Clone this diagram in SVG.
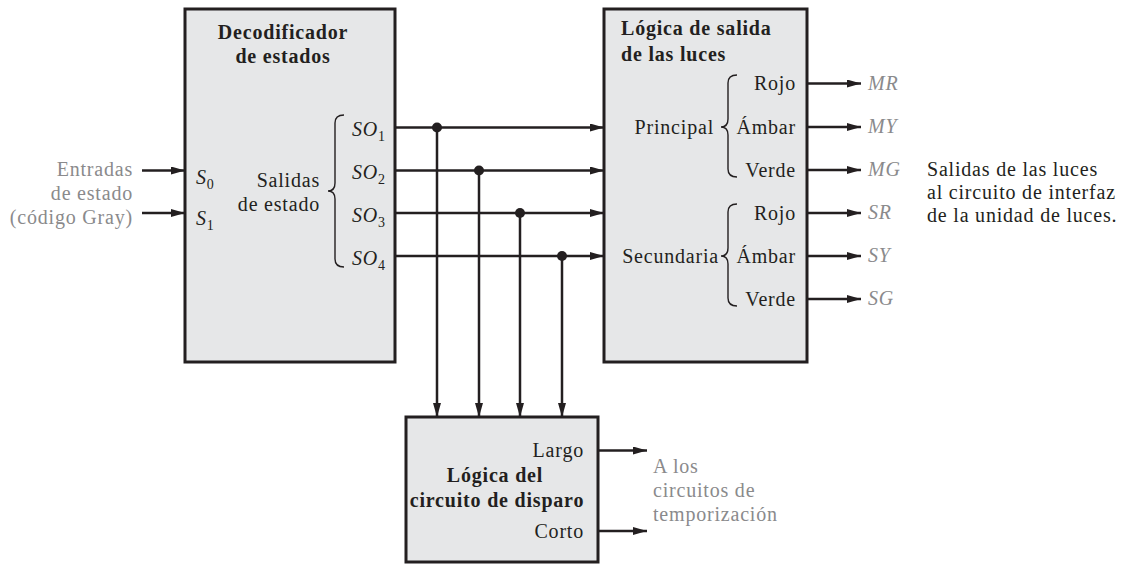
<svg xmlns="http://www.w3.org/2000/svg" width="1127" height="565" viewBox="0 0 1127 565">
<defs>
<marker id="ah" viewBox="0 0 14 8" refX="14" refY="4" markerWidth="14" markerHeight="8" markerUnits="userSpaceOnUse" orient="auto">
<path d="M0,0 L14,4 L0,8 z" fill="#231f20"/>
</marker>
<style>
.box{fill:#e6e7e8;stroke:#231f20;stroke-width:3}
.w{fill:none;stroke:#231f20;stroke-width:2.5}
.br{fill:none;stroke:#231f20;stroke-width:1.4}
.dot{fill:#231f20}
text{font-family:"Liberation Serif","Times New Roman",serif;font-size:20px;letter-spacing:0.8px;fill:#231f20}
.b{font-weight:bold}
.i{font-style:italic}
.g{fill:#8a8a8c}
.e{text-anchor:end}
.m{text-anchor:middle}
.sub{font-size:14px;font-style:normal}
</style>
</defs>

<g id="decodificador">
<rect class="box" x="185" y="9" width="210" height="353"/>
<text class="b m" x="283" y="39">Decodificador</text>
<text class="b m" x="283" y="63">de estados</text>
<text class="i" x="196" y="184">S<tspan class="sub" dy="5">0</tspan></text>
<text class="i" x="196" y="225">S<tspan class="sub" dy="5">1</tspan></text>
<text class="e" x="320" y="187">Salidas</text>
<text class="e" x="320" y="211">de estado</text>
<path class="br" d="M344,115 Q335,115 335,123 L335,183 Q335,191 328,191 Q335,191 335,199 L335,259 Q335,267 344,267"/>
<text class="i" x="352" y="136">SO<tspan class="sub" dy="5">1</tspan></text>
<text class="i" x="352" y="179">SO<tspan class="sub" dy="5">2</tspan></text>
<text class="i" x="352" y="222">SO<tspan class="sub" dy="5">3</tspan></text>
<text class="i" x="352" y="265">SO<tspan class="sub" dy="5">4</tspan></text>
</g>

<g id="logica-salida">
<rect class="box" x="604" y="9" width="203" height="353"/>
<text class="b" x="621" y="35">Lógica de salida</text>
<text class="b" x="621" y="61">de las luces</text>
<text class="e" x="714" y="133.5">Principal</text>
<text class="e" x="719" y="262.5">Secundaria</text>
<path class="br" d="M737,75 Q728,75 728,83 L728,119 Q728,127 721,127 Q728,127 728,135 L728,169 Q728,177 737,177"/>
<path class="br" d="M737,204 Q728,204 728,212 L728,248 Q728,256 721,256 Q728,256 728,264 L728,298 Q728,306 737,306"/>
<text class="e" x="796" y="90">Rojo</text>
<text class="e" x="796" y="133.5">Ámbar</text>
<text class="e" x="796" y="176.5">Verde</text>
<text class="e" x="796" y="219.5">Rojo</text>
<text class="e" x="796" y="262.5">Ámbar</text>
<text class="e" x="796" y="305.5">Verde</text>
</g>

<g id="logica-disparo">
<rect class="box" x="406" y="417" width="192" height="145"/>
<text class="e" x="584" y="457">Largo</text>
<text class="b m" x="495" y="482">Lógica del</text>
<text class="b m" x="497" y="507">circuito de disparo</text>
<text class="e" x="584" y="537.5">Corto</text>
</g>

<g id="entradas">
<text class="g e" x="133" y="176">Entradas</text>
<text class="g e" x="133" y="200">de estado</text>
<text class="g e" x="133" y="224">(código Gray)</text>
</g>

<g id="salidas-luces">
<text class="g i" x="868" y="89.5">MR</text>
<text class="g i" x="868" y="133">MY</text>
<text class="g i" x="868" y="176">MG</text>
<text class="g i" x="868" y="219">SR</text>
<text class="g i" x="868" y="262">SY</text>
<text class="g i" x="868" y="305">SG</text>
<text x="927" y="176">Salidas de las luces</text>
<text x="927" y="199">al circuito de interfaz</text>
<text x="927" y="222">de la unidad de luces.</text>
</g>

<g id="temporizacion">
<text class="g" x="653" y="473">A los</text>
<text class="g" x="653" y="497">circuitos de</text>
<text class="g" x="653" y="521">temporización</text>
</g>

<g id="connectors">
<line class="w" x1="142" y1="170.5" x2="185" y2="170.5" marker-end="url(#ah)"/>
<line class="w" x1="142" y1="213" x2="185" y2="213" marker-end="url(#ah)"/>
<line class="w" x1="395" y1="127.5" x2="604" y2="127.5" marker-end="url(#ah)"/>
<line class="w" x1="395" y1="170.5" x2="604" y2="170.5" marker-end="url(#ah)"/>
<line class="w" x1="395" y1="213" x2="604" y2="213" marker-end="url(#ah)"/>
<line class="w" x1="395" y1="256" x2="604" y2="256" marker-end="url(#ah)"/>
<line class="w" x1="437" y1="127.5" x2="437" y2="417" marker-end="url(#ah)"/>
<line class="w" x1="479" y1="170.5" x2="479" y2="417" marker-end="url(#ah)"/>
<line class="w" x1="520" y1="213" x2="520" y2="417" marker-end="url(#ah)"/>
<line class="w" x1="562" y1="256" x2="562" y2="417" marker-end="url(#ah)"/>
<circle class="dot" cx="437" cy="127.5" r="5"/>
<circle class="dot" cx="479" cy="170.5" r="5"/>
<circle class="dot" cx="520" cy="213" r="5"/>
<circle class="dot" cx="562" cy="256" r="5"/>
<line class="w" x1="807" y1="83.5" x2="861" y2="83.5" marker-end="url(#ah)"/>
<line class="w" x1="807" y1="127" x2="861" y2="127" marker-end="url(#ah)"/>
<line class="w" x1="807" y1="170" x2="861" y2="170" marker-end="url(#ah)"/>
<line class="w" x1="807" y1="213" x2="861" y2="213" marker-end="url(#ah)"/>
<line class="w" x1="807" y1="256" x2="861" y2="256" marker-end="url(#ah)"/>
<line class="w" x1="807" y1="299" x2="861" y2="299" marker-end="url(#ah)"/>
<line class="w" x1="598" y1="450.5" x2="647" y2="450.5" marker-end="url(#ah)"/>
<line class="w" x1="598" y1="531" x2="647" y2="531" marker-end="url(#ah)"/>
</g>
</svg>
